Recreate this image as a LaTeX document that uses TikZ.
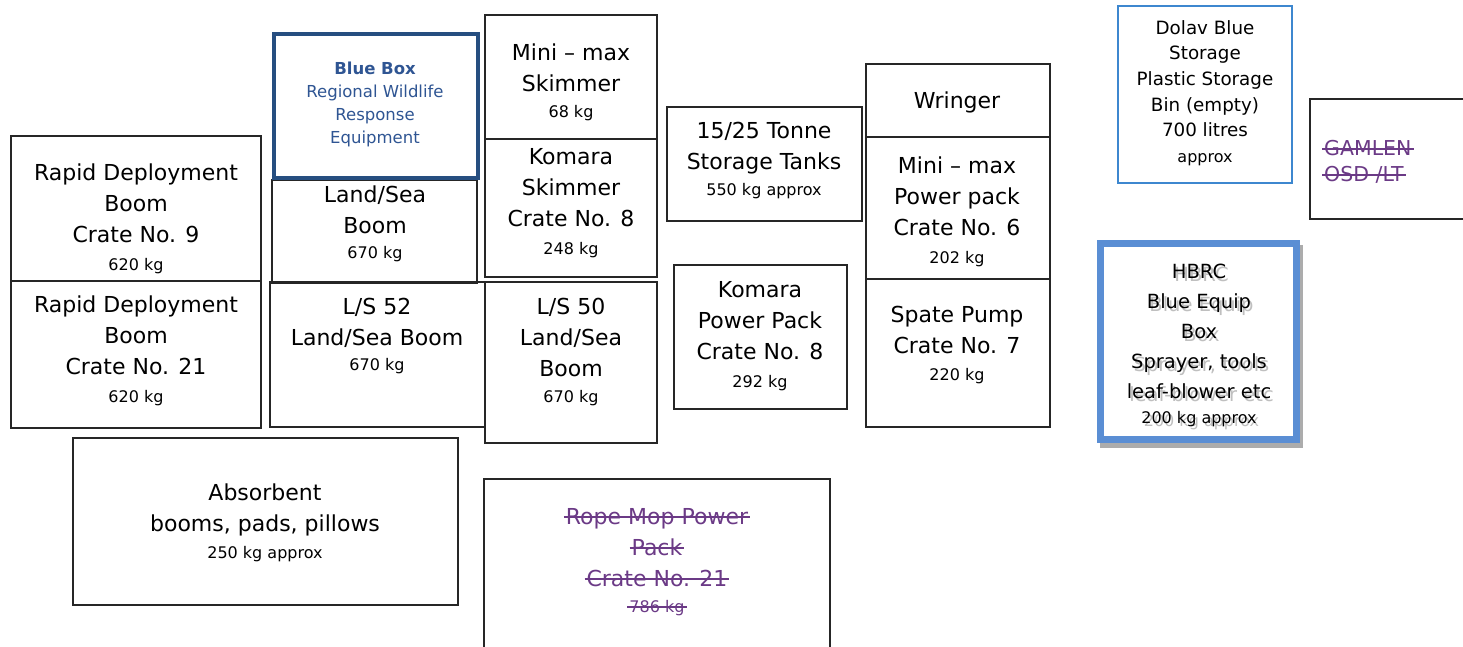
\documentclass[tikz,border=0pt]{standalone}
\usepackage{fontspec}
\setmainfont{DejaVu Sans}
\definecolor{boxblue}{HTML}{264E80}
\definecolor{bluetext}{HTML}{2F5593}
\definecolor{dolavblue}{HTML}{3D87CF}
\definecolor{hbrcblue}{HTML}{5A8ED4}
\definecolor{gonepurple}{HTML}{6B3A86}
\newsavebox{\gonebox}
\newcommand{\gone}[1]{\sbox{\gonebox}{#1}%
  \makebox[0pt][l]{\hspace{-2pt}\rule[0.3em]{\dimexpr\wd\gonebox+4pt\relax}{1.4pt}}\usebox{\gonebox}}
\newcommand{\wt}[1]{{\fontsize{16}{19}\selectfont #1}}
\newcommand{\hbrctext}{HBRC\\Blue Equip\\Box\\Sprayer, tools\\leaf-blower etc\\[-5pt]\wt{200 kg approx}}

\begin{document}
\begin{tikzpicture}[x=1pt, y=-1pt,
    crate/.style={draw=black!85, line width=1.6pt},
    lbl/.style={align=center, inner sep=0pt, font=\fontsize{22}{31}\selectfont}]
    \useasboundingbox (0,0) rectangle (1463,646);
    % Rapid deployment booms
    \draw[crate] (11,136) rectangle (261,281);
    \node[lbl] (rdb9) at (136,219) {Rapid Deployment\\Boom\\Crate No. 9\\[-3pt]\wt{620 kg}};
    \draw[crate] (11,281) rectangle (261,428);
    \node[lbl] (rdb21) at (136,351) {Rapid Deployment\\Boom\\Crate No. 21\\[-3pt]\wt{620 kg}};
    % Land/Sea booms
    \draw[crate] (272,180) rectangle (477,283);
    \node[lbl] (lsboom) at (375,224) {Land/Sea\\Boom\\[-6pt]\wt{670 kg}};
    \draw[crate] (270,282) rectangle (485,427);
    \node[lbl] (ls52) at (377,336) {L/S 52\\Land/Sea Boom\\[-6pt]\wt{670 kg}};
    \draw[crate] (485,282) rectangle (657,443);
    \node[lbl] (ls50) at (571,352) {L/S 50\\Land/Sea\\Boom\\[-5pt]\wt{670 kg}};
    % Blue Box
    \draw[draw=boxblue, line width=4pt, fill=white] (274,34) rectangle (478,178);
    \node[lbl, text=bluetext, font=\fontsize{16.5}{23}\selectfont] (bluebox) at (375,104.5)
        {\textbf{Blue Box}\\Regional Wildlife\\Response\\Equipment};
    % Skimmers
    \draw[crate] (485,15) rectangle (657,139);
    \node[lbl] (miniskim) at (571,82) {Mini – max\\Skimmer\\[-5pt]\wt{68 kg}};
    \draw[crate] (485,139) rectangle (657,277);
    \node[lbl] (komskim) at (571,203) {Komara\\Skimmer\\Crate No. 8\\[-3pt]\wt{248 kg}};
    % Tanks and power packs
    \draw[crate] (667,107) rectangle (862,221);
    \node[lbl] (tanks) at (764,160) {15/25 Tonne\\Storage Tanks\\[-5pt]\wt{550 kg approx}};
    \draw[crate] (674,265) rectangle (847,409);
    \node[lbl] (kompp) at (760,336) {Komara\\Power Pack\\Crate No. 8\\[-3pt]\wt{292 kg}};
    \draw[crate] (866,64) rectangle (1050,137);
    \node[lbl] (wringer) at (957,102) {Wringer};
    \draw[crate] (866,137) rectangle (1050,279);
    \node[lbl] (minipp) at (957,212) {Mini – max\\Power pack\\Crate No. 6\\[-3pt]\wt{202 kg}};
    \draw[crate] (866,279) rectangle (1050,427);
    \node[lbl] (spate) at (957,345) {Spate Pump\\Crate No. 7\\[-4pt]\wt{220 kg}};
    % Absorbent
    \draw[crate] (73,438) rectangle (458,605);
    \node[lbl] (absorb) at (265,523) {Absorbent\\booms, pads, pillows\\[-4pt]\wt{250 kg approx}};
    % Rope mop (gone)
    \draw[crate] (484,479) rectangle (830,660);
    \node[lbl, text=gonepurple] (ropemop) at (657,562)
        {\gone{Rope Mop Power}\\\gone{Pack}\\\gone{Crate No. 21}\\[-5pt]\wt{\gone{786 kg}}};
    % Dolav bin
    \draw[draw=dolavblue, line width=1.6pt] (1118,6) rectangle (1292,183);
    \node[lbl, font=\fontsize{18.3}{25.6}\selectfont] (dolav) at (1205,93)
        {Dolav Blue\\Storage\\Plastic Storage\\Bin (empty)\\700 litres\\\wt{approx}};
    % Gamlen (gone)
    \draw[crate] (1310,99) rectangle (1475,219);
    \node[lbl, align=left, anchor=west, text=gonepurple, font=\fontsize{20.5}{26}\selectfont] (gamlen) at (1324,162)
        {\gone{GAMLEN}\\\gone{OSD /LT}};
    % HBRC box
    \draw[draw=gray!65, line width=7pt] (1103.5,248.5) rectangle (1299.5,444.5);
    \draw[draw=hbrcblue, line width=7pt, fill=white] (1100.5,243.5) rectangle (1296.5,439.5);
    \node[lbl, text=gray!50, font=\fontsize{19.5}{30}\selectfont] (hbrcshadow) at (1201.5,348) {\hbrctext};
    \node[lbl, font=\fontsize{19.5}{30}\selectfont] (hbrc) at (1199,345) {\hbrctext};
\end{tikzpicture}
\end{document}
